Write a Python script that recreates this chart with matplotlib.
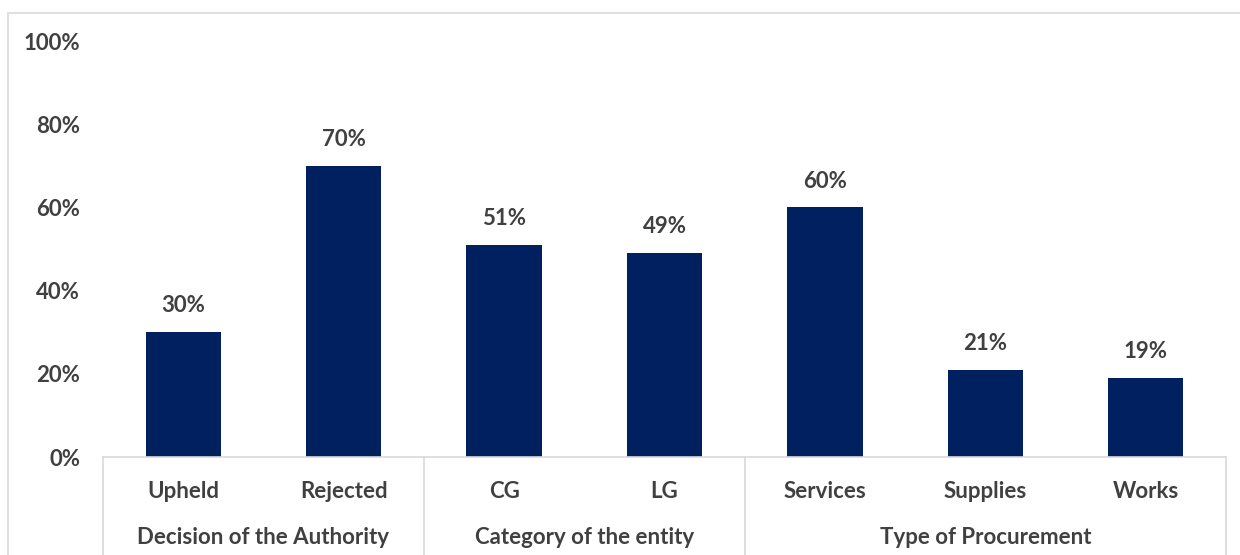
import matplotlib.pyplot as plt
from matplotlib.patches import Rectangle
from matplotlib.transforms import blended_transform_factory

categories = ["Upheld", "Rejected", "CG", "LG", "Services", "Supplies", "Works"]
values = [30, 70, 51, 49, 60, 21, 19]
groups = ["Decision of the Authority", "Category of the entity", "Type of Procurement"]
group_sizes = [2, 2, 3]
yticks = [0, 20, 40, 60, 80, 100]

bar_color = "#002060"
text_color = "#404040"
line_color = "#d9d9d9"
fs = 16

plt.rcParams["font.family"] = ["Lato", "DejaVu Sans"]
plt.rcParams["font.weight"] = "bold"

W, H = 1240, 555
fig = plt.figure(figsize=(W / 100, H / 100), dpi=100)

# light outer chart border (runs off the right and bottom edges)
fig.patches.append(Rectangle((8 / W, -0.1), 1.1, 1 - 13 / H + 0.1,
                             transform=fig.transFigure, fill=False,
                             edgecolor=line_color, linewidth=1.2))

ax = fig.add_axes([103 / W, 1 - 457 / H, (1226 - 103) / W, (457 - 41) / H])

x = list(range(len(categories)))
ax.bar(x, values, width=0.47, color=bar_color, zorder=2)

for xi, v in zip(x, values):
    ax.annotate(f"{v}%", (xi, v), xytext=(0, 19), textcoords="offset points",
                ha="center", va="center", fontsize=fs, fontweight="bold",
                color=text_color)

ax.set_xlim(-0.5, len(categories) - 0.5)
ax.set_ylim(0, 100)
ax.set_yticks(yticks)
ax.set_yticklabels([f"{t}%" for t in yticks])
ax.set_xticks(x)
ax.set_xticklabels(categories)
ax.tick_params(axis="y", length=0, pad=16.5, labelsize=fs, labelcolor=text_color)
ax.tick_params(axis="x", length=0, pad=17, labelsize=fs, labelcolor=text_color)
for lab in ax.get_xticklabels() + ax.get_yticklabels():
    lab.set_fontweight("bold")

for side in ["top", "right", "left"]:
    ax.spines[side].set_visible(False)
ax.spines["bottom"].set_color(line_color)
ax.spines["bottom"].set_linewidth(1.2)
ax.spines["bottom"].set_zorder(3)

# group labels and separators below the axis
trans = blended_transform_factory(ax.transData, fig.transFigure)
start = -0.5
edges = [start]
for g, n in zip(groups, group_sizes):
    mid = start + n / 2
    ax.text(mid, 1 - 537 / H, g, transform=trans, ha="center", va="center",
            fontsize=fs, fontweight="bold", color=text_color)
    start += n
    edges.append(start)
for e in edges:
    ax.plot([e, e], [1 - 457 / H, -0.05], transform=trans, color=line_color,
            linewidth=1.2, clip_on=False)

fig.savefig("out.png", dpi=100)
